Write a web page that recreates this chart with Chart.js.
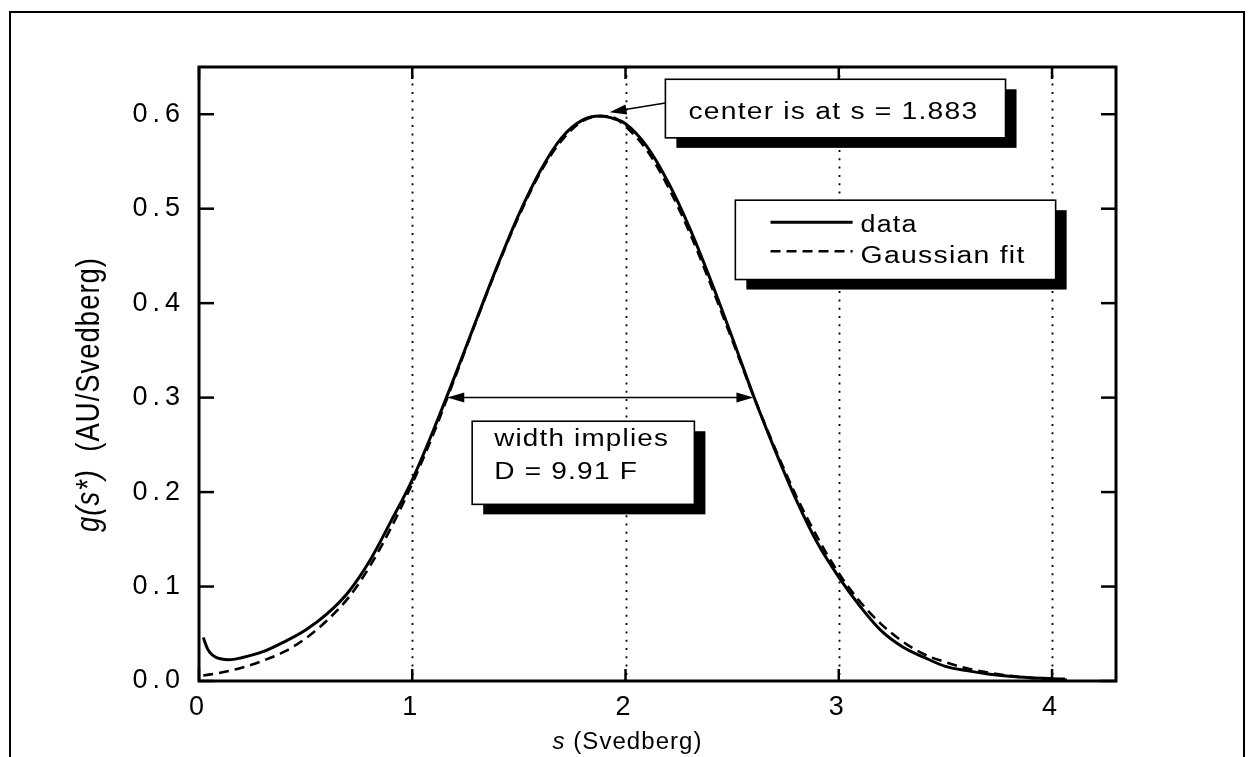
<!DOCTYPE html>
<html><head><meta charset="utf-8">
<script src="https://cdn.jsdelivr.net/npm/chart.js@4.4.0/dist/chart.umd.min.js"></script>
<style>html,body{margin:0;padding:0;background:#fff;overflow:hidden}#wrap{width:1260px;height:757px}</style>
</head><body><div id="wrap"><canvas id="c" width="1260" height="757"></canvas></div>
<script>
// ---- data ----
const seriesNames = ['data', 'Gaussian fit'];
const dataS = [0.02,0.04,0.06,0.08,0.10,0.14,0.20,0.30,0.40,0.50,0.60,0.70,0.80,0.90,1.00,1.10,1.20,1.30,1.40,1.50,1.60,1.70,1.80,1.88,1.95,2.00,2.10,2.20,2.30,2.40,2.50,2.60,2.70,2.80,2.90,3.00,3.10,3.20,3.30,3.40,3.50,3.60,3.70,3.80,3.90,4.00,4.06];
const dataG = [0.046,0.034,0.028,0.025,0.0235,0.0225,0.0247,0.031,0.0415,0.054,0.071,0.094,0.127,0.169,0.213,0.266,0.323,0.382,0.440,0.494,0.540,0.575,0.594,0.598,0.595,0.590,0.566,0.528,0.480,0.424,0.364,0.302,0.245,0.192,0.146,0.110,0.079,0.053,0.036,0.025,0.0155,0.011,0.0075,0.005,0.0035,0.0025,0.002];
const fitS = [0.02,0.10,0.20,0.30,0.40,0.50,0.60,0.70,0.80,0.90,1.00,1.10,1.20,1.30,1.40,1.50,1.60,1.70,1.80,1.883,1.95,2.00,2.10,2.20,2.30,2.40,2.50,2.60,2.70,2.80,2.90,3.00,3.10,3.20,3.30,3.40,3.50,3.60,3.70,3.80,3.90,4.00,4.07];
const fitG = [0.0058,0.0088,0.014,0.0215,0.031,0.045,0.064,0.088,0.121,0.162,0.209,0.262,0.321,0.381,0.439,0.492,0.538,0.572,0.593,0.598,0.596,0.587,0.562,0.523,0.475,0.4195,0.361,0.302,0.247,0.196,0.152,0.114,0.0839,0.060,0.0417,0.0283,0.020,0.0135,0.009,0.0055,0.0033,0.002,0.0012];
const xTickValues = [0,1,2,3,4];
const yTickValues = [0,0.1,0.2,0.3,0.4,0.5,0.6];
const xTitleParts = [{t:'s', italic:true},{t:' (Svedberg)', italic:false}];
const yTitleParts = [{t:'g(s*)', italic:true},{t:'  (AU/Svedberg)', italic:false}];
const centerLabel = 'center is at s = 1.883';
const widthLabel = ['width implies', 'D = 9.91 F'];
const peakS = 1.883, halfLeft = 1.164, halfRight = 2.60, halfLevel = 0.3;

const FONT = '"Liberation Sans", Arial, Helvetica, sans-serif';

function fitText(ctx, parts, x, y, target, size, align, spacing){
  ctx.save();
  ctx.letterSpacing = spacing + 'px';
  const fonts = parts.map(p => (p.italic ? 'italic ' : '') + size + 'px ' + FONT);
  const widths = parts.map((p,i) => { ctx.font = fonts[i]; return ctx.measureText(p.t).width; });
  const total = widths.reduce((a,b)=>a+b,0);
  const sx = target / total;
  ctx.translate(x, y);
  ctx.scale(sx, 1);
  let cx = align === 'center' ? -total/2 : 0;
  ctx.fillStyle = '#000';
  ctx.textAlign = 'left';
  ctx.textBaseline = 'alphabetic';
  parts.forEach((p,i)=>{ ctx.font = fonts[i]; ctx.fillText(p.t, cx, 0); cx += widths[i]; });
  ctx.restore();
}

function shadowBox(ctx, x1, y1, x2, y2){
  ctx.save();
  ctx.fillStyle = '#000';
  ctx.fillRect(x1 + 11, y1 + 10, x2 - x1, y2 - y1);
  ctx.fillStyle = '#fff';
  ctx.fillRect(x1, y1, x2 - x1, y2 - y1);
  ctx.lineWidth = 1.6;
  ctx.strokeStyle = '#000';
  ctx.strokeRect(x1, y1, x2 - x1, y2 - y1);
  ctx.restore();
}

function arrowHead(ctx, fx, fy, tx, ty){
  const ang = Math.atan2(ty - fy, tx - fx);
  const L = 17, W = 5;
  ctx.beginPath();
  ctx.moveTo(tx, ty);
  ctx.lineTo(tx - L*Math.cos(ang) + W*Math.sin(ang), ty - L*Math.sin(ang) - W*Math.cos(ang));
  ctx.lineTo(tx - L*Math.cos(ang) - W*Math.sin(ang), ty - L*Math.sin(ang) + W*Math.cos(ang));
  ctx.closePath();
  ctx.fill();
}

const decor = {
  id: 'decor',
  beforeDraw(chart){
    const c = chart.ctx;
    c.save(); c.fillStyle = '#fff'; c.fillRect(0,0,chart.width,chart.height); c.restore();
    c.letterSpacing = '5px';
  },
  beforeDatasetsDraw(chart){
    const c = chart.ctx, a = chart.chartArea, xs = chart.scales.x;
    c.save();
    c.letterSpacing = '0px';
    c.strokeStyle = '#000';
    c.lineWidth = 1.8;
    c.setLineDash([2, 6.3]);
    xTickValues.forEach(v => {
      if (v === xs.min) return;
      const px = Math.round(xs.getPixelForValue(v)) + 0.5;
      c.beginPath(); c.moveTo(px, a.top); c.lineTo(px, a.bottom); c.stroke();
    });
    c.restore();
  },
  afterDatasetsDraw(chart){
    const c = chart.ctx, a = chart.chartArea, xs = chart.scales.x, ys = chart.scales.y;
    const X = v => xs.getPixelForValue(v), Y = v => ys.getPixelForValue(v);
    c.save();
    c.letterSpacing = '0px';
    c.strokeStyle = '#000'; c.fillStyle = '#000';
    // axis frame
    c.lineWidth = 3;
    c.strokeRect(a.left, a.top, a.right - a.left, a.bottom - a.top);
    // inward ticks on all sides
    c.lineWidth = 2.5;
    xTickValues.forEach(v => {
      const px = X(v);
      c.beginPath(); c.moveTo(px, a.bottom); c.lineTo(px, a.bottom - 12); c.stroke();
      c.beginPath(); c.moveTo(px, a.top); c.lineTo(px, a.top + 12); c.stroke();
    });
    yTickValues.forEach(v => {
      const py = Y(v);
      c.beginPath(); c.moveTo(a.left, py); c.lineTo(a.left + 15, py); c.stroke();
      c.beginPath(); c.moveTo(a.right, py); c.lineTo(a.right - 15, py); c.stroke();
    });

    // width double arrow at half maximum
    c.lineWidth = 1.5;
    const hy = Y(halfLevel), hx1 = X(halfLeft), hx2 = X(halfRight);
    c.beginPath(); c.moveTo(hx1 + 8, hy); c.lineTo(hx2 - 8, hy); c.stroke();
    arrowHead(c, hx2, hy, hx1, hy);
    arrowHead(c, hx1, hy, hx2, hy);

    // center annotation
    shadowBox(c, X(2.187), Y(0.637), X(3.782), Y(0.575));
    const tipX = X(peakS) + 9, tipY = Y(0.602);
    c.lineWidth = 1.5;
    c.beginPath(); c.moveTo(X(2.187), Y(0.612)); c.lineTo(tipX + 8, tipY - 1.5); c.stroke();
    arrowHead(c, X(2.187), Y(0.612), tipX, tipY);
    fitText(c, [{t:centerLabel}], X(2.295), Y(0.5947), 290, 23, 'left', 1);

    // legend
    shadowBox(c, X(2.515), Y(0.509), X(4.017), Y(0.425));
    const ds = chart.data.datasets;
    const rowsY = [Y(0.4857), Y(0.455)];
    const textY = [Y(0.4755), Y(0.4426)];
    const textW = [57, 165];
    ds.forEach((d, i) => {
      c.save();
      c.strokeStyle = d.borderColor; c.lineWidth = d.borderWidth;
      c.setLineDash(d.borderDash || []);
      c.beginPath(); c.moveTo(X(2.68), rowsY[i]); c.lineTo(X(3.065), rowsY[i]); c.stroke();
      c.restore();
      fitText(c, [{t:d.label}], X(3.102), textY[i], textW[i], 23, 'left', 1);
    });

    // width annotation
    shadowBox(c, X(1.281), Y(0.275), X(2.323), Y(0.187));
    fitText(c, [{t:widthLabel[0]}], X(1.384), Y(0.2487), 175, 23, 'left', 1);
    fitText(c, [{t:widthLabel[1]}], X(1.384), Y(0.2138), 144, 23, 'left', 1);

    // axis titles
    fitText(c, xTitleParts, X(2.0) + 2, 749, 150, 23, 'center', 1);
    c.save();
    c.translate(99, 532);
    c.rotate(-Math.PI/2);
    c.scale(1, 1.3);
    fitText(c, yTitleParts, 0, 0, 275, 26, 'left', 1);
    c.restore();

    // outer frame
    c.lineWidth = 2;
    c.strokeRect(10, 12, 1234, 800);
    c.restore();
  },
  afterDraw(chart){ chart.ctx.letterSpacing = '0px'; }
};

const chart = new Chart(document.getElementById('c'), {
  type: 'line',
  data: {
    datasets: [
      { label: seriesNames[0], data: dataS.map((s,i)=>({x:s, y:dataG[i]})),
        borderColor:'#000', borderWidth:3, pointRadius:0, fill:false, cubicInterpolationMode:'monotone' },
      { label: seriesNames[1], data: fitS.map((s,i)=>({x:s, y:fitG[i]})),
        borderColor:'#000', borderWidth:2.6, borderDash:[10,6], pointRadius:0, fill:false, cubicInterpolationMode:'monotone' }
    ]
  },
  options: {
    responsive:false, animation:false, devicePixelRatio:1,
    layout:{ padding:{ left:0, top:67, right:144, bottom:0 } },
    plugins:{ legend:{display:false}, tooltip:{enabled:false}, title:{display:false} },
    scales:{
      x:{ type:'linear', min:0, max:4.3,
        afterBuildTicks: s => { s.ticks = xTickValues.map(v=>({value:v})); },
        afterFit: s => { s.height = 76; },
        grid:{ display:false, drawTicks:false }, border:{ display:false },
        ticks:{ color:'#000', padding:10, font:{ family:FONT, size:27 }, callback: v => String(v), maxRotation:0, autoSkip:false } },
      y:{ type:'linear', min:0, max:0.65,
        afterBuildTicks: s => { s.ticks = yTickValues.map(v=>({value:v})); },
        afterFit: s => { s.width = 199; },
        grid:{ display:false, drawTicks:false }, border:{ display:false },
        ticks:{ color:'#000', padding:14, font:{ family:FONT, size:27 }, callback: v => Number(v).toFixed(1), autoSkip:false } }
    }
  },
  plugins:[decor]
});
</script>
</body></html>
